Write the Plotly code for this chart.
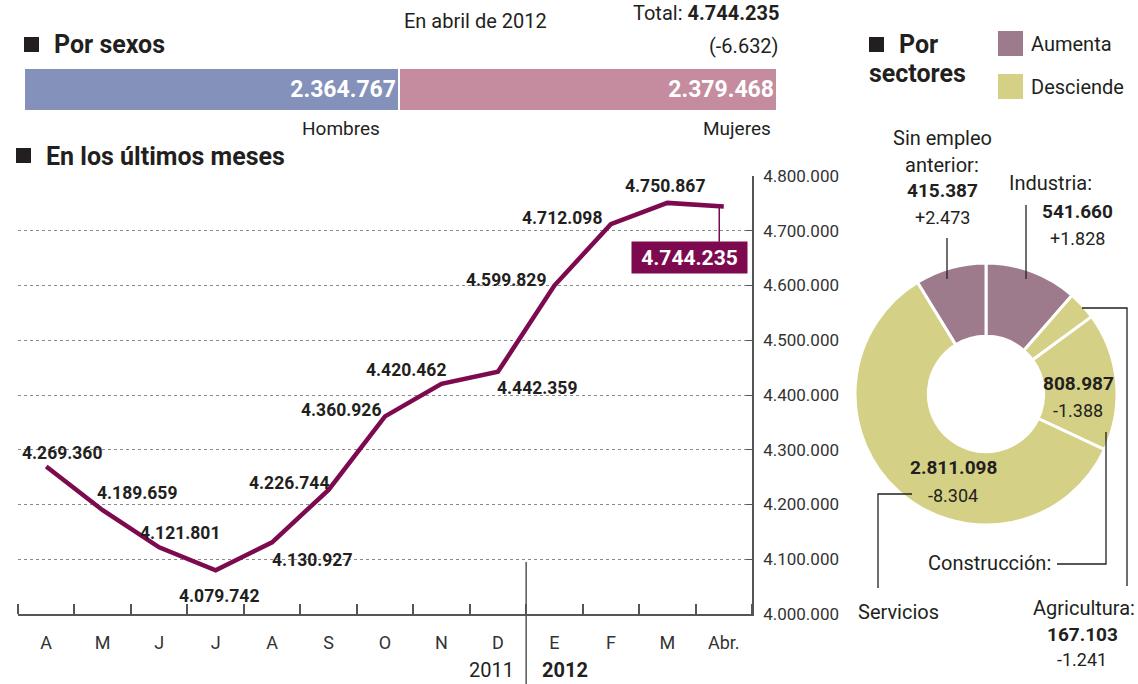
import plotly.graph_objects as go

W, H = 1138, 684

# ---------------- data ----------------
months = ["A", "M", "J", "J", "A", "S", "O", "N", "D", "E", "F", "M", "Abr."]
parados = [4269360, 4189659, 4121801, 4079742, 4130927, 4226744, 4360926,
           4420462, 4442359, 4599829, 4712098, 4750867, 4744235]
y_ticks = [4000000, 4100000, 4200000, 4300000, 4400000, 4500000, 4600000, 4700000, 4800000]

sex_labels = ["Hombres", "Mujeres"]
sex_values = [2364767, 2379468]
total = 4744235
total_change = -6632

sectors = ["Industria", "Agricultura", "Construcción", "Servicios", "Sin empleo anterior"]
sector_values = [541660, 167103, 808987, 2811098, 415387]
sector_changes = [1828, -1241, -1388, -8304, 2473]

# ---------------- styles ----------------
NARROW = "Roboto, Liberation Sans, sans-serif"
WIDE = "Roboto, Liberation Sans, sans-serif"
INK = "#231f20"
LINE = "#7d0a4f"
C_UP = "#9e7b8c"
C_DOWN = "#d4d186"
C_MEN = "#8491bb"
C_WOMEN = "#c48c9e"


def fmt(v):
    return f"{abs(v):,}".replace(",", ".")


def fmt_signed(v):
    return ("+" if v > 0 else "-") + fmt(v)


def px(x):
    return x / W


def py(y):
    return 1 - y / H


fig = go.Figure()

# line chart
fig.add_trace(go.Scatter(
    x=list(range(len(months))), y=parados, mode="lines",
    line=dict(color=LINE, width=4.5), hoverinfo="skip", showlegend=False,
    xaxis="x", yaxis="y"))

# sex bar
cols = [C_MEN, C_WOMEN]
for lab, val, col in zip(sex_labels, sex_values, cols):
    fig.add_trace(go.Bar(
        y=[0], x=[val], orientation="h", name=lab,
        marker=dict(color=col, line=dict(color="white", width=2)),
        text=[fmt(val)], textposition="inside", insidetextanchor="end",
        textfont=dict(family=NARROW, size=23, color="white", weight="bold"),
        constraintext="none", hoverinfo="skip", showlegend=False,
        xaxis="x2", yaxis="y2"))

# donut
sector_colors = [C_UP if c > 0 else C_DOWN for c in sector_changes]
fig.add_trace(go.Pie(
    labels=sectors, values=sector_values, hole=0.44, sort=False,
    direction="clockwise", rotation=0, textinfo="none",
    marker=dict(colors=sector_colors, line=dict(color="white", width=3)),
    domain=dict(x=[px(855), px(1117)], y=[py(525), py(263)]),
    hoverinfo="skip", showlegend=False))

ann = []
shapes = []

# data labels on the line
offsets = [(16, -14), (34, -17), (21, -14), (3, 26), (40, 18), (-40, -7), (-44, -6),
           (-35, -14), (39, 16), (-48, -6), (-49, -6), (-2, -17)]
for i, (dx, dy) in enumerate(offsets):
    ann.append(dict(x=i, y=parados[i], xref="x", yref="y", text="<b>" + fmt(parados[i]) + "</b>",
                    showarrow=False, xshift=dx, yshift=-dy,
                    font=dict(family=NARROW, size=17.5, color=INK)))
# last value box
last = len(parados) - 1
ann.append(dict(x=last, y=parados[last], xref="x", yref="y", text="<b>" + fmt(parados[last]) + "</b>",
                showarrow=False, xshift=-34, yshift=-51, bgcolor=LINE, width=113, height=29,
                font=dict(family=WIDE, size=21, color="white")))
shapes.append(dict(type="line", xref="x", yref="y", x0=last - 0.08, x1=last - 0.08,
                   y0=parados[last], y1=4680000, line=dict(color=LINE, width=1.5)))

# year separator and labels
shapes.append(dict(type="line", xref="x", yref="paper", x0=8.5, x1=8.5, y0=py(684), y1=py(562),
                   line=dict(color="#555", width=1.5)))
ann.append(dict(x=px(516), y=py(670), xref="paper", yref="paper", text="2011", xanchor="right",
                yanchor="middle", showarrow=False, font=dict(family=NARROW, size=20, color=INK)))
ann.append(dict(x=px(540), y=py(670), xref="paper", yref="paper", text="<b>2012</b>", xanchor="left",
                yanchor="middle", showarrow=False, font=dict(family=NARROW, size=20, color=INK)))

# headers
for (x0, y0) in [(24, 37), (16, 148), (869, 37)]:
    shapes.append(dict(type="rect", xref="paper", yref="paper", x0=px(x0), x1=px(x0 + 15),
                       y0=py(y0 + 15), y1=py(y0), fillcolor=INK, line=dict(width=0)))


def text(x, y, t, size=20, anchor="left", bold=False, family=NARROW, color=INK):
    ann.append(dict(x=px(x), y=py(y), xref="paper", yref="paper",
                    text=("<b>" + t + "</b>") if bold else t, xanchor=anchor, yanchor="middle",
                    showarrow=False, font=dict(family=family, size=size, color=color)))


text(52, 45, "Por sexos", 25, bold=True)
text(44, 156, "En los últimos meses", 25, bold=True)
text(897, 45, "Por", 25, bold=True)
text(867, 74, "sectores", 25, bold=True)
text(475, 21, "En abril de 2012", 20, anchor="center")
text(781, 13, "Total: <b>" + fmt(total) + "</b>", 20, anchor="right")
text(781, 46, "(" + fmt_signed(total_change) + ")", 20, anchor="right")
text(341, 128, sex_labels[0], 19, anchor="center")
text(737, 128, sex_labels[1], 19, anchor="center")

# legend
shapes.append(dict(type="rect", xref="paper", yref="paper", x0=px(998), x1=px(1023), y0=py(56), y1=py(31),
                   fillcolor=C_UP, line=dict(width=0)))
shapes.append(dict(type="rect", xref="paper", yref="paper", x0=px(998), x1=px(1023), y0=py(99), y1=py(74),
                   fillcolor=C_DOWN, line=dict(width=0)))
text(1029, 44, "Aumenta", 20)
text(1029, 87, "Desciende", 20)

# donut labels
text(942, 138, "Sin empleo", 20, anchor="center")
text(942, 165, "anterior:", 20, anchor="center")
text(942, 190, fmt(sector_values[4]), 19, anchor="center", bold=True)
text(942, 217, fmt_signed(sector_changes[4]), 18, anchor="center")

text(1050, 183, "Industria:", 20, anchor="center")
text(1077, 211, fmt(sector_values[0]), 19, anchor="center", bold=True)
text(1077, 238, fmt_signed(sector_changes[0]), 18, anchor="center")

text(1078, 383, fmt(sector_values[2]), 19, anchor="center", bold=True)
text(1078, 410, fmt_signed(sector_changes[2]), 18, anchor="center")
text(1053, 563, "Construcción:", 20, anchor="right")

text(953, 467, fmt(sector_values[3]), 19, anchor="center", bold=True)
text(953, 495, fmt_signed(sector_changes[3]), 18, anchor="center")
text(898, 612, "Servicios", 20, anchor="center")

text(1137, 608, "Agricultura:", 20, anchor="right")
text(1082, 634, fmt(sector_values[1]), 19, anchor="center", bold=True)
text(1082, 659, fmt_signed(sector_changes[1]), 18, anchor="center")

# connectors
def path(points):
    d = "M " + " L ".join(f"{px(x)},{py(y)}" for x, y in points)
    shapes.append(dict(type="path", xref="paper", yref="paper", path=d,
                       line=dict(color=INK, width=1.3)))


path([(947, 238), (947, 279)])
path([(1026, 205), (1026, 279)])
path([(1082, 308), (1127, 308), (1127, 586)])
path([(1106, 432), (1106, 564), (1057, 564)])
path([(912, 494), (878, 494), (878, 588)])

fig.update_layout(
    template="none",
    width=W, height=H, margin=dict(l=0, r=0, t=0, b=0, pad=0, autoexpand=False),
    paper_bgcolor="white", plot_bgcolor="white", separators=",.",
    barmode="stack", bargap=0, showlegend=False,
    xaxis=dict(domain=[px(18), px(752)], range=[-0.5, 12.5], tickmode="array",
               tickvals=list(range(len(months))), ticktext=months, ticks="",
               showline=True, linecolor="#555", linewidth=1.5, showgrid=False, zeroline=False,
               tickfont=dict(family=NARROW, size=18, color="#333"), ticklabelstandoff=12,
               minor=dict(ticks="inside", ticklen=10, tickcolor="#555", tickwidth=1.5,
                          tickmode="linear", tick0=-0.5, dtick=1, showgrid=False),
               automargin=False, fixedrange=True),
    yaxis=dict(domain=[py(614), py(176)], range=[4000000, 4800000], side="right", anchor="x",
               tickmode="array", tickvals=y_ticks, ticktext=[fmt(v) for v in y_ticks],
               showgrid=True, gridcolor="#8a8a8a", griddash="dot", gridwidth=1,
               ticks="inside", ticklen=6, tickcolor="#555", showline=True, linecolor="#555",
               linewidth=1.5, zeroline=False, ticklabelstandoff=6, automargin=False,
               tickfont=dict(family=NARROW, size=17, color="#333"), fixedrange=True),
    xaxis2=dict(domain=[px(24), px(777)], range=[0, total], visible=False, anchor="y2",
                automargin=False, fixedrange=True),
    yaxis2=dict(domain=[py(111), py(68)], range=[-0.5, 0.5], visible=False, anchor="x2",
                automargin=False, fixedrange=True),
    annotations=ann, shapes=shapes,
)

fig.write_html("out.html", config={"displayModeBar": False},
               post_script="document.body.style.margin='0';")
